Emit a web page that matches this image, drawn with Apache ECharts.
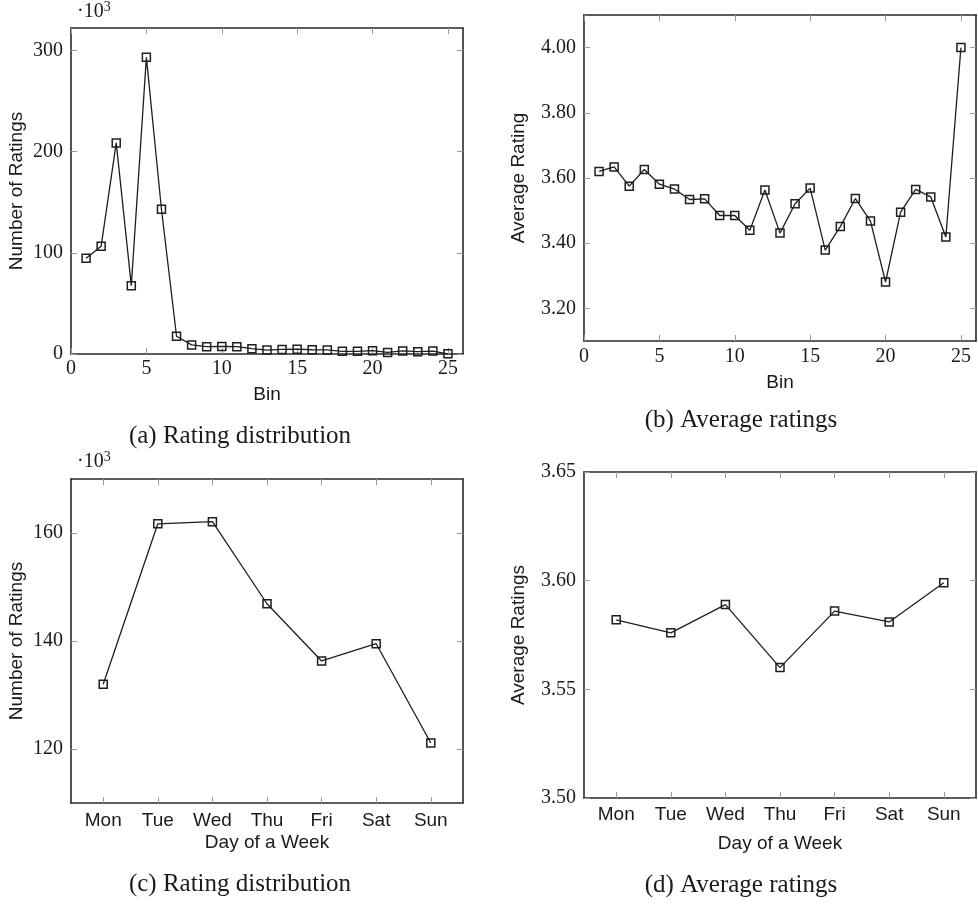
<!DOCTYPE html>
<html>
<head>
<meta charset="utf-8">
<script src="https://cdn.jsdelivr.net/npm/echarts@6/dist/echarts.min.js"></script>
<style>
html,body{margin:0;padding:0;background:#fff;}
#chart{width:978px;height:908px;}
</style>
</head>
<body>
<div id="chart"></div>
<script>
// ---- data ----
const bins = [1,2,3,4,5,6,7,8,9,10,11,12,13,14,15,16,17,18,19,20,21,22,23,24,25];
const binCounts = [94.5,106.5,208.5,67.5,293,143,17.5,9,7.2,7.5,7.2,5.3,3.9,4.5,4.8,4.2,4.0,2.6,2.6,3.3,1.6,3.0,2.3,2.9,0.2];
const binAvg = [3.620,3.634,3.575,3.626,3.581,3.566,3.534,3.536,3.485,3.485,3.440,3.563,3.431,3.521,3.569,3.379,3.451,3.537,3.468,3.281,3.495,3.565,3.542,3.419,4.000];
const days = ['Mon','Tue','Wed','Thu','Fri','Sat','Sun'];
const dayCounts = [132.0,161.7,162.1,146.9,136.3,139.5,121.1];
const dayAvg = [3.582,3.576,3.589,3.560,3.586,3.581,3.599];

const binTicks = [0,5,10,15,20,25];
const countTicks = [0,100,200,300];
const avgBinTicks = [3.2,3.4,3.6,3.8,4.0];
const dayCountTicks = [120,140,160];
const dayAvgTicks = [3.50,3.55,3.60,3.65];
const dayTicks = [1,2,3,4,5,6,7];

// ---- styling helpers ----
const SERIF = '"Liberation Serif", "Times New Roman", serif';
const SANS = '"Liberation Sans", Arial, sans-serif';
const FRAME = {show:true, onZero:false, lineStyle:{color:'#2a2a2a', width:1.6}};
const TICK = {show:true, inside:true, length:6, lineStyle:{color:'#9a9a9a', width:1}};

function xAxes(gi, min, max, ticks, fmt, name, margin, nameGap, sans){
  return [
    {gridIndex:gi, type:'value', position:'bottom', min:min, max:max,
     axisLine:FRAME, axisTick:Object.assign({customValues:ticks}, TICK),
     axisLabel:{customValues:ticks, formatter:fmt, margin:margin, color:'#1a1a1a',
       fontFamily: sans?SANS:SERIF, fontSize:sans?19:20},
     splitLine:{show:false},
     name:name, nameLocation:'middle', nameGap:nameGap,
     nameTextStyle:{fontFamily:SANS, fontSize:19, color:'#1a1a1a'}},
    {gridIndex:gi, type:'value', position:'top', min:min, max:max,
     axisLine:FRAME, axisTick:Object.assign({customValues:ticks}, TICK),
     axisLabel:{show:false}, splitLine:{show:false}}
  ];
}
function yAxes(gi, min, max, ticks, fmt, name, nameGap){
  return [
    {gridIndex:gi, type:'value', position:'left', min:min, max:max,
     axisLine:FRAME, axisTick:Object.assign({customValues:ticks}, TICK),
     axisLabel:{customValues:ticks, formatter:fmt, margin:8, color:'#1a1a1a',
       fontFamily:SERIF, fontSize:20},
     splitLine:{show:false},
     name:name, nameLocation:'middle', nameGap:nameGap,
     nameTextStyle:{fontFamily:SANS, fontSize:19, color:'#1a1a1a'}},
    {gridIndex:gi, type:'value', position:'right', min:min, max:max,
     axisLine:FRAME, axisTick:Object.assign({customValues:ticks}, TICK),
     axisLabel:{show:false}, splitLine:{show:false}}
  ];
}
function lineSeries(xi, yi, data){
  return {type:'line', xAxisIndex:xi, yAxisIndex:yi, data:data,
    symbol:'rect', symbolSize:8, showAllSymbol:true,
    lineStyle:{color:'#1e1e1e', width:1.3},
    itemStyle:{color:'rgba(0,0,0,0)', borderColor:'#1e1e1e', borderWidth:1.5},
    emphasis:{disabled:true}, animation:false, z:3};
}

const dayFmt = v => days[Math.round(v)-1] || '';
const intFmt = v => String(Math.round(v));
const dec2 = v => v.toFixed(2);

const supRich = {s:{fontSize:14, fontFamily:SERIF, fill:'#1a1a1a', padding:[0,0,9,0]}};

const option = {
  animation:false,
  grid:[
    {left:71, top:28, width:392, height:326, outerBoundsMode:'none', containLabel:false},
    {left:584, top:15, width:392, height:326, outerBoundsMode:'none', containLabel:false},
    {left:71, top:479, width:392, height:324, outerBoundsMode:'none', containLabel:false},
    {left:584, top:472, width:392, height:326, outerBoundsMode:'none', containLabel:false}
  ],
  xAxis:[].concat(
    xAxes(0, 0, 26, binTicks, intFmt, 'Bin', 5, 31, false),
    xAxes(1, 0, 26, binTicks, intFmt, 'Bin', 6, 32, false),
    xAxes(2, 0.41, 7.59, dayTicks, dayFmt, 'Day of a Week', 8, 30, true),
    xAxes(3, 0.41, 7.59, dayTicks, dayFmt, 'Day of a Week', 7, 36, true)
  ),
  yAxis:[].concat(
    yAxes(0, 0, 322, countTicks, intFmt, 'Number of Ratings', 45),
    yAxes(1, 3.1, 4.1, avgBinTicks, dec2, 'Average Rating', 56),
    yAxes(2, 110, 170, dayCountTicks, intFmt, 'Number of Ratings', 45),
    yAxes(3, 3.5, 3.65, dayAvgTicks, dec2, 'Average Ratings', 56)
  ),
  series:[
    lineSeries(0, 0, bins.map((b,i)=>[b, binCounts[i]])),
    lineSeries(2, 2, bins.map((b,i)=>[b, binAvg[i]])),
    lineSeries(4, 4, days.map((d,i)=>[i+1, dayCounts[i]])),
    lineSeries(6, 6, days.map((d,i)=>[i+1, dayAvg[i]]))
  ],
  graphic:[
    {type:'text', left:77, top:0, style:{text:'·10{s|3}', rich:supRich, font:'20px '+SERIF, fill:'#1a1a1a'}},
    {type:'text', left:77, top:450, style:{text:'·10{s|3}', rich:supRich, font:'20px '+SERIF, fill:'#1a1a1a'}},
    {type:'text', x:240, y:436, style:{text:'(a) Rating distribution', font:'25px '+SERIF, fill:'#1a1a1a', align:'center', verticalAlign:'middle'}},
    {type:'text', x:741, y:420, style:{text:'(b) Average ratings', font:'25px '+SERIF, fill:'#1a1a1a', align:'center', verticalAlign:'middle'}},
    {type:'text', x:240, y:884, style:{text:'(c) Rating distribution', font:'25px '+SERIF, fill:'#1a1a1a', align:'center', verticalAlign:'middle'}},
    {type:'text', x:741, y:885, style:{text:'(d) Average ratings', font:'25px '+SERIF, fill:'#1a1a1a', align:'center', verticalAlign:'middle'}}
  ]
};

const chart = echarts.init(document.getElementById('chart'), null, {renderer:'canvas'});
chart.setOption(option);
</script>
</body>
</html>
